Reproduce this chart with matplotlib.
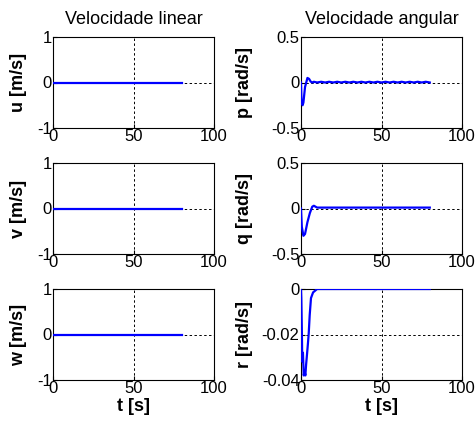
import numpy as np
import matplotlib.pyplot as plt

plt.rcParams['font.family'] = ['Liberation Sans', 'DejaVu Sans']

# tempo e velocidades lineares (nulas)
t_lin = [0, 80]
u = [0, 0]
v = [0, 0]
w = [0, 0]

# velocidade angular p
t_p = [0, 0.3, 1, 1.5, 2.5, 4, 5, 6, 7, 8, 10, 12.5, 15, 17.5, 20, 22.5, 25, 27.5, 30,
       32.5, 35, 37.5, 40, 42.5, 45, 47.5, 50, 52.5, 55, 57.5, 60, 62.5, 65, 67.5,
       70, 72.5, 75, 77.5, 80]
p = [0, -0.2, -0.25, -0.22, -0.05, 0.05, 0.04, 0.01, 0.0, 0.008, 0.0, 0.008, 0.0, 0.008,
     0.0, 0.008, 0.0, 0.008, 0.0, 0.008, 0.0, 0.008, 0.0, 0.008, 0.0, 0.008, 0.0, 0.008,
     0.0, 0.008, 0.0, 0.008, 0.0, 0.008, 0.0, 0.008, 0.0, 0.008, 0.0]

# velocidade angular q
t_q = [0, 0.5, 1.5, 2.5, 4, 5.5, 7, 8, 9, 10, 80]
q = [0, -0.2, -0.3, -0.28, -0.15, -0.05, 0.02, 0.03, 0.02, 0.01, 0.01]

# velocidade angular r
t_r = [0, 0.2, 0.5, 0.8, 1.2, 1.7, 2.2, 2.7, 3.2, 3.7, 4.3, 4.8, 5.4, 6.2, 7.5, 10, 80]
r = [0, -0.004, -0.017, -0.032, -0.028, -0.038, -0.036, -0.038, -0.033, -0.029,
     -0.024, -0.0195, -0.0115, -0.004, -0.0015, 0, 0]

fig = plt.figure(figsize=(4.75, 4.25), dpi=100)
W, H = 475, 425

def make_ax(x0, y0, x1, y1):
    return fig.add_axes([x0 / W, 1 - y1 / H, (x1 - x0) / W, (y1 - y0) / H])

rows = [(37, 128), (163, 254), (289, 380)]
axs = []
for (y0, y1) in rows:
    axs.append((make_ax(53, y0, 214, y1), make_ax(301, y0, 462, y1)))

series = [
    (axs[0][0], t_lin, u, 'u [m/s]', (-1, 1), [-1, 0, 1], ['-1', '0', '1'], -0.16),
    (axs[1][0], t_lin, v, 'v [m/s]', (-1, 1), [-1, 0, 1], ['-1', '0', '1'], -0.16),
    (axs[2][0], t_lin, w, 'w [m/s]', (-1, 1), [-1, 0, 1], ['-1', '0', '1'], -0.16),
    (axs[0][1], t_p, p, 'p [rad/s]', (-0.5, 0.5), [-0.5, 0, 0.5], ['-0.5', '0', '0.5'], -0.30),
    (axs[1][1], t_q, q, 'q [rad/s]', (-0.5, 0.5), [-0.5, 0, 0.5], ['-0.5', '0', '0.5'], -0.30),
    (axs[2][1], t_r, r, 'r [rad/s]', (-0.04, 0), [-0.04, -0.02, 0], ['-0.04', '-0.02', '0'], -0.30),
]

for ax, t, y, lab, ylim, yt, ytl, lx in series:
    ax.plot(t, y, color='#0000ff', lw=1.6, zorder=3)
    ax.set_xlim(0, 100)
    ax.set_ylim(*ylim)
    ax.set_xticks([0, 50, 100])
    ax.set_yticks(yt)
    ax.set_yticklabels(ytl)
    ax.tick_params(direction='in', length=3, labelsize=12, pad=1, colors='black')
    ax.grid(True, color='black', linestyle=(0, (2.5, 2.5)), linewidth=0.7)
    for s in ax.spines.values():
        s.set_linewidth(0.8)
    ax.set_ylabel(lab, fontsize=13, fontweight='bold')
    ax.yaxis.set_label_coords(lx, 0.5)

axs[0][0].set_title('Velocidade linear', fontsize=13, pad=9)
axs[0][1].set_title('Velocidade angular', fontsize=13, pad=9)
for ax in axs[2]:
    ax.set_xlabel('t [s]', fontsize=13, fontweight='bold', labelpad=1)

fig.savefig('out.png', dpi=100)
